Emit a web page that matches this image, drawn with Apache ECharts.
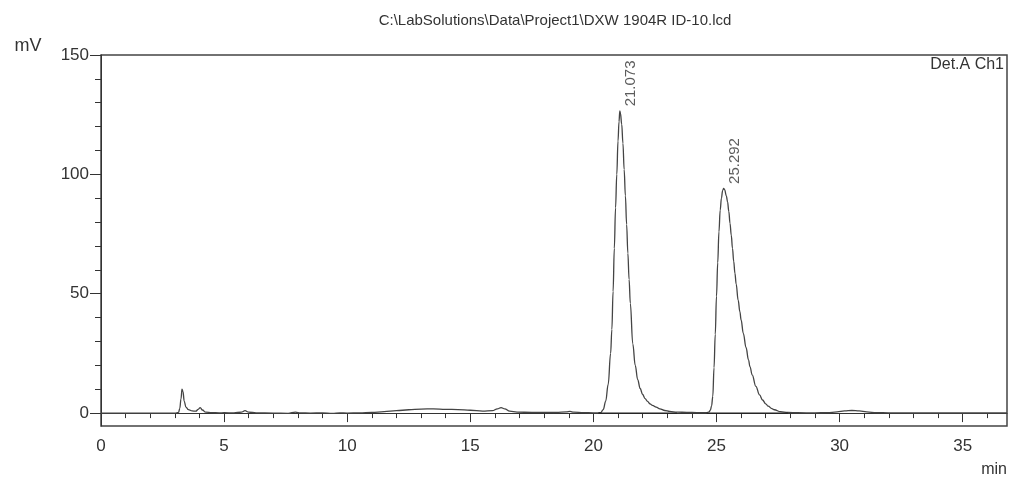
<!DOCTYPE html>
<html>
<head>
<meta charset="utf-8">
<script src="https://cdn.jsdelivr.net/npm/echarts@6/dist/echarts.min.js"></script>
<style>
  html, body { margin: 0; padding: 0; background: #fff; }
  #chart { width: 1010px; height: 477px; }
</style>
</head>
<body>
<div id="chart"></div>
<script>
// ---- data ----
var titleText = 'C:\\LabSolutions\\Data\\Project1\\DXW 1904R ID-10.lcd';
var channelName = 'Det.A Ch1';
var yUnit = 'mV';
var xUnit = 'min';

var times = [
  0, 3.0, 3.15, 3.2, 3.25, 3.29, 3.33, 3.38, 3.45, 3.55, 3.7, 3.85, 3.95, 4.03, 4.12, 4.25, 4.5, 4.8, 5.0, 5.4,
  5.7, 5.85, 6.0, 6.3, 7.0, 7.6, 7.9, 8.1, 8.5, 9.0, 9.4, 9.7, 10.0, 10.5, 11.0, 11.5, 12.0, 12.5, 13.0, 13.5,
  14.0, 14.5, 15.0, 15.5, 15.9, 16.1, 16.25, 16.4, 16.6, 16.9, 17.5, 18.0, 18.5, 18.9, 19.05, 19.2, 19.6, 20.0, 20.2,
  20.3, 20.4, 20.5, 20.6, 20.7, 20.75, 20.8, 20.85, 20.9, 20.95, 21.0, 21.04, 21.073, 21.1, 21.15, 21.2, 21.25, 21.3,
  21.35, 21.4, 21.45, 21.5, 21.6, 21.7, 21.8, 21.9, 22.0, 22.1, 22.2, 22.3, 22.4, 22.55, 22.7, 22.9, 23.1, 23.4,
  23.8, 24.2,
  24.6, 24.7, 24.75, 24.8, 24.85, 24.9, 24.95, 25.0, 25.05, 25.1, 25.15, 25.2, 25.25, 25.292, 25.33, 25.4, 25.45,
  25.5, 25.55, 25.6, 25.65, 25.7, 25.75, 25.8, 25.88, 25.95, 26.0, 26.09, 26.2, 26.3, 26.36, 26.45, 26.6, 26.75,
  26.87, 27.0, 27.1, 27.25, 27.35, 27.6, 27.9, 28.3, 29.0, 29.5, 29.9, 30.2,
  30.5, 30.8, 31.1, 31.5, 32.0, 33.0, 36.8
];
var signal = [
  0, 0, 0.3, 2, 6, 10, 9, 5, 2.5, 1.5, 0.9, 0.8, 1.6, 2.3, 1.3, 0.4, 0.2, 0.1, 0.15, 0.1,
  0.4, 1.0, 0.4, 0.1, 0, -0.1, 0.4, 0.1, 0, 0.1, -0.1, 0.1, 0, 0.1, 0.3, 0.6, 1.0, 1.4, 1.7, 1.8,
  1.6, 1.5, 1.2, 0.8, 1.0, 1.8, 2.3, 1.8, 0.8, 0.4, 0.3, 0.3, 0.3, 0.5, 0.7, 0.4, 0.2, 0.1, 0.1,
  0.2, 1.5, 5, 12, 25, 35, 51, 69, 86, 100, 114, 122, 126.6, 125.5, 121, 113, 102, 91,
  79, 67, 56, 46, 29, 20, 14, 10.3, 7.8, 6.1, 4.9, 3.9, 3.2, 2.5, 1.8, 1.1, 0.7, 0.4,
  0.3, 0.2,
  0.2, 0.5, 1.2, 3, 7, 19, 33, 49, 63, 76, 85, 90, 93.3, 94.1, 93.6, 91, 88.5,
  84.5, 79.5, 74.5, 69, 63.5, 58.5, 54, 47.3, 42.5, 39, 33.4, 27.5, 22.3, 19.5, 16, 11.2, 7.6,
  5.5, 3.9, 2.9, 1.9, 1.4, 0.6, 0.3, 0.15, 0.1, 0.2, 0.5, 0.9,
  1.1, 0.9, 0.5, 0.2, 0.1, 0.05, 0.05
];
// integration baselines drawn under the two main peaks
var baselineStarts = [20.2, 24.6];
var baselineEnds = [23.4, 27.9];
// labelled peaks (retention time, height)
var peakTimes = [21.073, 25.292];
var peakHeights = [126.6, 94.1];

// axes
var xMin = 0, xMax = 36.8;
var yMin = -5.4, yMax = 150;
var xMajorTicks = [0, 5, 10, 15, 20, 25, 30, 35];
var xMinorTicks = [1, 2, 3, 4, 6, 7, 8, 9, 11, 12, 13, 14, 16, 17, 18, 19, 21, 22, 23, 24, 26, 27, 28, 29, 31, 32, 33, 34, 36];
var yMajorTicks = [0, 50, 100, 150];
var yMinorTicks = [10, 20, 30, 40, 60, 70, 80, 90, 110, 120, 130, 140];

// ---- build ----
var FONT = '"Liberation Sans", Arial, Helvetica, sans-serif';
var AXC = '#333';

var lineData = times.map(function (t, i) { return [t, signal[i]]; });
var baseData = [];
baselineStarts.forEach(function (s, i) {
  baseData.push([s, 0]); baseData.push([baselineEnds[i], 0]); baseData.push([null, null]);
});
var peakData = peakTimes.map(function (t, i) { return [t, peakHeights[i]]; });

var chart = echarts.init(document.getElementById('chart'), null, { renderer: 'canvas' });

function xAx(ticks, len, labels) {
  return {
    type: 'value', min: xMin, max: xMax, position: 'bottom',
    splitLine: { show: false },
    axisLine: { show: labels, lineStyle: { color: AXC, width: 1 } },
    axisTick: { show: true, length: len, customValues: ticks, lineStyle: { color: AXC, width: 1 } },
    axisLabel: { show: labels, customValues: ticks, margin: 12, fontSize: 17, color: '#333', fontFamily: FONT }
  };
}
function yAx(ticks, len, labels) {
  return {
    type: 'value', min: yMin, max: yMax, position: 'left', offset: 0,
    splitLine: { show: false },
    axisLine: { show: labels, lineStyle: { color: AXC, width: 1 } },
    axisTick: { show: true, length: len, customValues: ticks, lineStyle: { color: AXC, width: 1 } },
    axisLabel: { show: labels, customValues: ticks, margin: 12, fontSize: 17, color: '#333', fontFamily: FONT }
  };
}

chart.setOption({
  animation: false,
  backgroundColor: '#fff',
  grid: { left: 101, right: 3, top: 55, bottom: 51, show: true, borderColor: '#444', borderWidth: 1.5, backgroundColor: 'transparent' },
  xAxis: [xAx(xMajorTicks, 9, true), xAx(xMinorTicks, 5, false)],
  yAxis: [yAx(yMajorTicks, 11, true), yAx(yMinorTicks, 6, false)],
  graphic: [
    { type: 'text', x: 555, y: 21, style: { text: titleText, align: 'center', verticalAlign: 'middle', font: '15px ' + FONT, fill: '#333' } },
    { type: 'text', x: 28, y: 46, style: { text: yUnit, align: 'center', verticalAlign: 'middle', font: '18px ' + FONT, fill: '#333' } },
    { type: 'text', x: 1007, y: 470, style: { text: xUnit, align: 'right', verticalAlign: 'middle', font: '16px ' + FONT, fill: '#333' } },
    { type: 'text', x: 1004, y: 65, style: { text: channelName, align: 'right', verticalAlign: 'middle', font: '16px ' + FONT, fill: '#333' } }
  ],
  series: [
    {
      type: 'line', data: baseData, xAxisIndex: 0, yAxisIndex: 0, showSymbol: false, connectNulls: false,
      lineStyle: { color: '#222', width: 1.2 }, silent: true, z: 3
    },
    {
      type: 'line', data: lineData, xAxisIndex: 0, yAxisIndex: 0, showSymbol: false,
      smooth: 0.4, smoothMonotone: 'x',
      lineStyle: { color: '#444', width: 1.3 }, silent: true, z: 2
    },
    {
      type: 'scatter', data: peakData, xAxisIndex: 0, yAxisIndex: 0, symbolSize: 1,
      itemStyle: { color: 'rgba(0,0,0,0)' },
      label: {
        show: true, position: [12, -4], rotate: 90, align: 'left', verticalAlign: 'middle',
        fontSize: 15, color: '#333', fontFamily: FONT,
        formatter: function (p) { return p.value[0].toFixed(3); }
      }, z: 4
    }
  ]
});
</script>
</body>
</html>
